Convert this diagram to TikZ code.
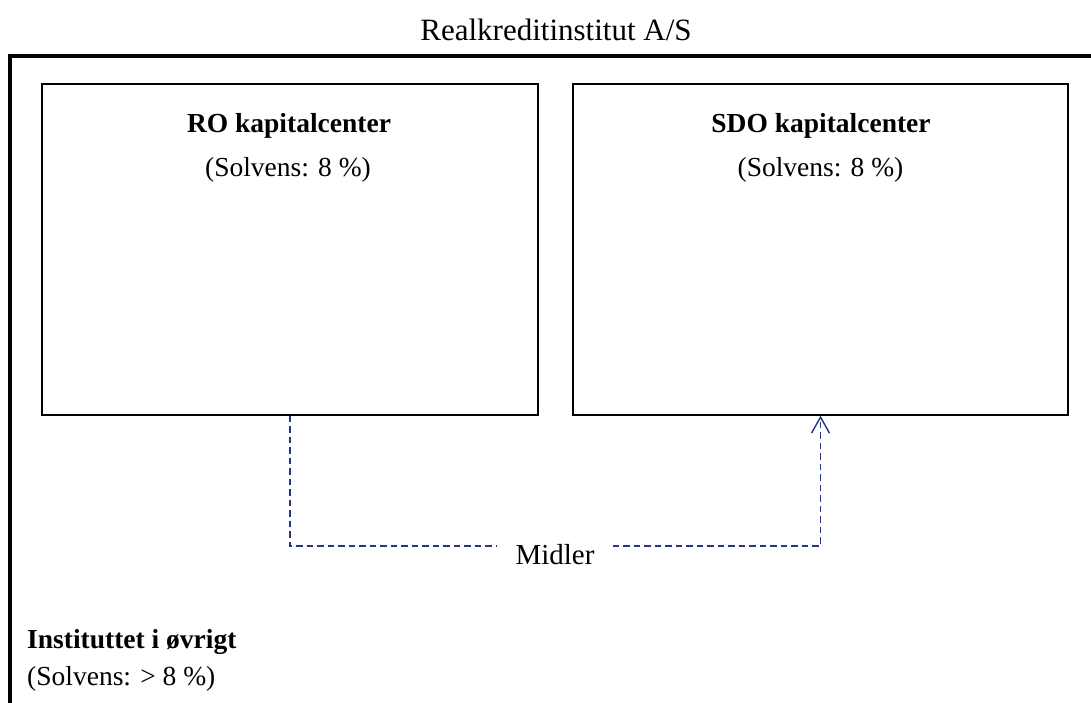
\documentclass[tikz,border=0pt]{standalone}
\usepackage{fontspec}
\setmainfont{Liberation Serif}
\usetikzlibrary{arrows.meta}
\definecolor{flowblue}{RGB}{36,56,128}
\tikzset{
  x=1pt, y=-1pt,
  center box/.style={draw=black, line width=1.4pt, minimum width=496pt, minimum height=331pt, inner sep=0pt},
  label text/.style={inner sep=0pt, font=\fontsize{27.5}{32}\selectfont},
  heading/.style={label text, font=\fontsize{27.5}{32}\selectfont\bfseries},
  flow/.style={draw=flowblue, line width=1.4pt, dash pattern=on 6.5pt off 4pt},
  flowtip/.style={-{Straight Barb[length=16pt, width=18pt, line width=1.4pt]}}
}
\begin{document}
\begin{tikzpicture}
  \clip (0,0) rectangle (1091,702);
  \fill[white] (0,0) rectangle (1091,702);

  % the institute as a whole (frame runs off to the right and bottom)
  \node[label text, anchor=base, font=\fontsize{31}{34}\selectfont] (inst) at (556,40) {Realkreditinstitut A/S};
  \draw[line width=3.5pt] (10,760) -- (10,56) -- (1150,56);

  % capital centres
  \node[center box] (ro) at (290,249.5) {};
  \node[center box, minimum width=495pt] (sdo) at (820.5,249.5) {};

  \node[heading, anchor=base] (rohead) at (289,132) {RO kapitalcenter};
  \node[label text, anchor=base] (rosolv) at (288,176) {(Solvens: 8 \%)};
  \node[heading, anchor=base] (sdohead) at (821,132) {SDO kapitalcenter};
  \node[label text, anchor=base] (sdosolv) at (820.5,176) {(Solvens: 8 \%)};

  % transfer of funds between the centres
  \node[label text, anchor=base, text height=36pt, text depth=0pt, inner xsep=18pt, font=\fontsize{29}{32}\selectfont] (midler) at (555,564) {Midler};
  \draw[flow] (ro.south) |- (midler.west);
  \draw[flow, flowtip] (midler.east) -| (sdo.south);

  % rest of the institute
  \node[heading, anchor=base west] (resthead) at (27,648) {Instituttet i øvrigt};
  \node[label text, anchor=base west] (restsolv) at (27,685) {(Solvens: > 8 \%)};
\end{tikzpicture}
\end{document}
